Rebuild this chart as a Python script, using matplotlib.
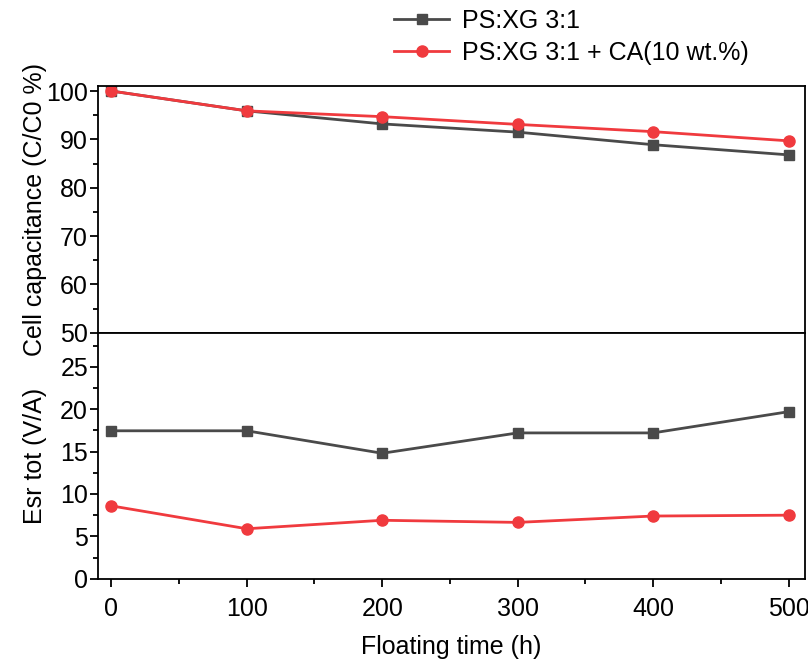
import matplotlib
matplotlib.use("Agg")
import matplotlib.pyplot as plt
from matplotlib.ticker import MultipleLocator

plt.rcParams["font.family"] = ["Liberation Sans", "DejaVu Sans"]

hours = [0, 100, 200, 300, 400, 500]
cap_ref = [100, 95.9, 93.2, 91.5, 88.9, 86.8]
cap_ca = [100, 95.9, 94.7, 93.1, 91.6, 89.7]
esr_ref = [17.45, 17.45, 14.8, 17.2, 17.2, 19.7]
esr_ca = [8.6, 5.9, 6.9, 6.65, 7.4, 7.5]

labels = ["PS:XG 3:1", "PS:XG 3:1 + CA(10 wt.%)"]
GREY = "#4a4a4a"
RED = "#f03a3e"
FS = 18

fig = plt.figure(figsize=(8.08, 6.63), dpi=100)
ax1 = fig.add_axes([0.121, 0.498, 0.875, 0.372])
ax2 = fig.add_axes([0.121, 0.127, 0.875, 0.371], sharex=ax1)

for ax in (ax1, ax2):
    for sp in ax.spines.values():
        sp.set_linewidth(1.3)
    ax.tick_params(which="both", direction="out", width=1.3, labelsize=FS,
                   top=False, right=False)
    ax.tick_params(which="major", length=6)
    ax.tick_params(which="minor", length=3.5)
    ax.tick_params(axis="y", pad=1)
    ax.tick_params(axis="x", pad=7)
    ax.xaxis.set_major_locator(MultipleLocator(100))
    ax.xaxis.set_minor_locator(MultipleLocator(50))

l1, = ax1.plot(hours, cap_ref, color=GREY, lw=2, marker="s", ms=7.5)
l2, = ax1.plot(hours, cap_ca, color=RED, lw=2, marker="o", ms=8)
ax2.plot(hours, esr_ref, color=GREY, lw=2, marker="s", ms=7.5)
ax2.plot(hours, esr_ca, color=RED, lw=2, marker="o", ms=8)

ax1.set_xlim(-10, 512)
ax1.set_ylim(50, 101)
ax1.yaxis.set_major_locator(MultipleLocator(10))
ax1.yaxis.set_minor_locator(MultipleLocator(5))
ax1.tick_params(axis="x", labelbottom=False)

ax2.set_ylim(0, 29)
ax2.yaxis.set_major_locator(MultipleLocator(5))
ax2.yaxis.set_minor_locator(MultipleLocator(2.5))

ax1.set_ylabel("Cell capacitance (C/C0 %)", fontsize=FS)
ax2.set_ylabel("Esr tot (V/A)", fontsize=FS)
ax1.yaxis.set_label_coords(-0.072, 0.5)
ax2.yaxis.set_label_coords(-0.072, 0.5)
ax2.set_xlabel("Floating time (h)", fontsize=FS, labelpad=10)

fig.legend([l1, l2], labels, loc="upper left", bbox_to_anchor=(0.46, 1.02),
           frameon=False, fontsize=FS, handlelength=2.2, handletextpad=0.5,
           labelspacing=0.3)

fig.savefig("out.png", dpi=100, facecolor="white")
